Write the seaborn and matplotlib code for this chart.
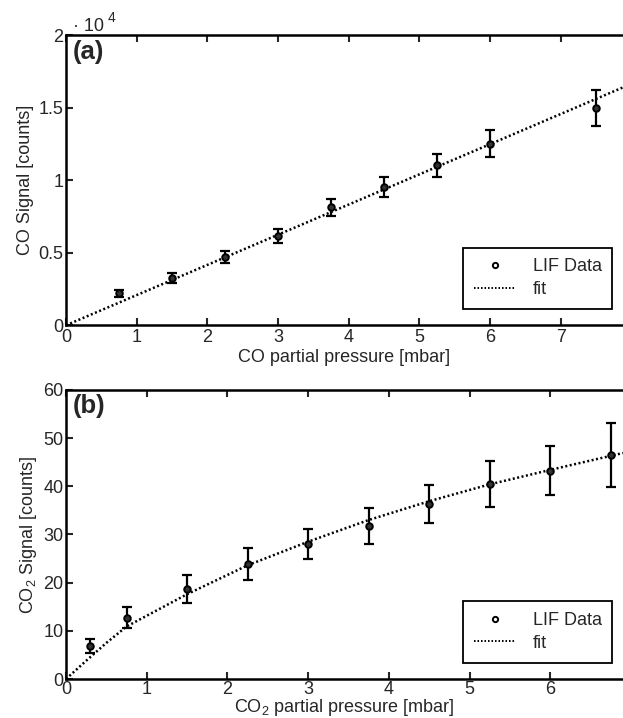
import matplotlib
matplotlib.use("Agg")
import matplotlib.pyplot as plt
import pandas as pd
import seaborn as sns
from matplotlib.lines import Line2D
from matplotlib.ticker import FuncFormatter

# panel (a): CO, signal in units of 1e4 counts
co_p = [0.75, 1.5, 2.25, 3.0, 3.75, 4.5, 5.25, 6.0, 7.5]
co_sig = [0.219, 0.326, 0.471, 0.614, 0.812, 0.954, 1.103, 1.253, 1.499]
co_err = [0.023, 0.032, 0.041, 0.048, 0.060, 0.071, 0.079, 0.092, 0.123]
co_fit_p = [0.0, 7.88]
co_fit_sig = [0.0, 1.64]

# panel (b): CO2
co2_p = [0.3, 0.75, 1.5, 2.25, 3.0, 3.75, 4.5, 5.25, 6.0, 6.75]
co2_sig = [6.85, 12.7, 18.7, 23.9, 28.0, 31.7, 36.3, 40.5, 43.2, 46.5]
co2_err = [1.35, 2.2, 2.9, 3.3, 3.1, 3.7, 4.0, 4.8, 5.1, 6.7]
co2_fit_p = [0.0, 0.25, 0.5, 0.75, 1.5, 2.25, 3.0, 3.75, 4.5, 5.25, 6.0, 6.9]
co2_fit_sig = [0.0, 3.8, 7.5, 10.9, 17.6, 23.6, 28.5, 33.0, 36.9, 40.4, 43.4, 46.9]

sns.set_style("ticks")
plt.rcParams["font.family"] = ["Liberation Sans", "DejaVu Sans"]
plt.rcParams["mathtext.fontset"] = "custom"
plt.rcParams["mathtext.rm"] = "Liberation Sans"
plt.rcParams["mathtext.default"] = "regular"
plt.rcParams["font.size"] = 13

fig = plt.figure(figsize=(6.23, 7.18), dpi=100)
ax1 = fig.add_axes([0.106, 0.547, 0.894, 0.404])
ax2 = fig.add_axes([0.106, 0.0543, 0.894, 0.4027])

DOT = (0, (0.8, 1.0))


def draw(ax, p, sig, err, fp, fs, xlim, ylim, xticks, yticks, xlabel, ylabel, tag,
         xpad, labelpad):
    fit_df = pd.DataFrame({"p": fp, "s": fs})
    sns.lineplot(data=fit_df, x="p", y="s", ax=ax, color="black", linestyle=DOT,
                 linewidth=1.8, zorder=2)
    ax.errorbar(p, sig, yerr=err, fmt="none", ecolor="black", elinewidth=1.6,
                capsize=3.8, capthick=1.6, zorder=3)
    pts = pd.DataFrame({"p": p, "s": sig})
    sns.scatterplot(data=pts, x="p", y="s", ax=ax, s=22, facecolor="#333333",
                    edgecolor="black", linewidth=1.4, zorder=4)
    ax.set_xlim(*xlim)
    ax.set_ylim(*ylim)
    ax.set_xticks(xticks)
    ax.set_yticks(yticks)
    fmt = FuncFormatter(lambda v, _: f"{v:g}")
    ax.xaxis.set_major_formatter(fmt)
    ax.yaxis.set_major_formatter(fmt)
    ax.tick_params(direction="in", length=5, width=1.5, top=True, right=False,
                   labelsize=13)
    ax.tick_params(axis="x", pad=xpad)
    ax.tick_params(axis="y", pad=2)
    for side in ["left", "bottom", "top"]:
        ax.spines[side].set_linewidth(1.8)
        ax.spines[side].set_color("black")
    ax.spines["right"].set_visible(False)
    ax.set_xlabel(xlabel, fontsize=13, labelpad=labelpad)
    ax.set_ylabel(ylabel, fontsize=13, labelpad=3)
    ax.text(0.012, 0.985, tag, transform=ax.transAxes, fontsize=18.5, fontweight="bold",
            va="top", ha="left")
    handles = [
        Line2D([], [], marker="o", linestyle="none", markersize=3.8, markerfacecolor="white",
               markeredgecolor="black", markeredgewidth=1.4),
        Line2D([], [], color="black", linestyle=DOT, linewidth=1.4),
    ]
    leg = ax.legend(handles, ["LIF Data", "fit"], loc="lower right",
                    bbox_to_anchor=(0.981, 0.057), fontsize=13, frameon=True,
                    fancybox=False, edgecolor="black", framealpha=1,
                    handlelength=2.3, borderpad=0.6, labelspacing=0.3,
                    handletextpad=0.95, borderaxespad=0)
    leg.get_frame().set_linewidth(1.3)


draw(ax1, co_p, co_sig, co_err, co_fit_p, co_fit_sig, (0, 7.88), (0, 2),
     [0, 1, 2, 3, 4, 5, 6, 7], [0, 0.5, 1, 1.5, 2],
     "CO partial pressure [mbar]", "CO Signal [counts]", "(a)", 3, 1.5)
draw(ax2, co2_p, co2_sig, co2_err, co2_fit_p, co2_fit_sig, (0, 6.9), (0, 60),
     [0, 1, 2, 3, 4, 5, 6], [0, 10, 20, 30, 40, 50, 60],
     "CO$_2$ partial pressure [mbar]", "CO$_2$ Signal [counts]", "(b)", 1.5, -0.6)

fig.text(0.117, 0.957, "· 10", fontsize=13, ha="left", va="baseline")
fig.text(0.173, 0.970, "4", fontsize=10, ha="left", va="baseline")

fig.savefig("out.png", dpi=100)
